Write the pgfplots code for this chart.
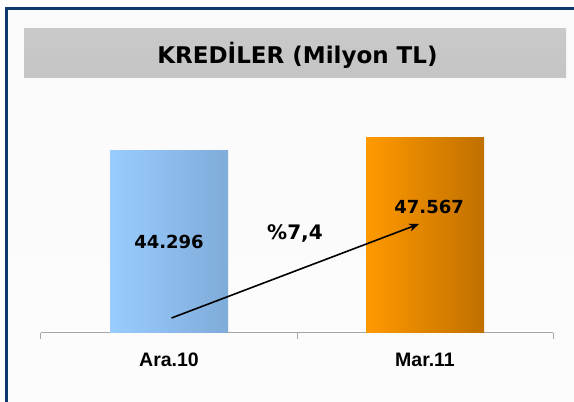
\documentclass[border=0pt]{standalone}
\usepackage{pgfplots}
\pgfplotsset{compat=1.18}
\usepackage{fontspec}
\setmainfont{DejaVu Sans}
\newfontfamily\arialfont{Liberation Sans}
\usetikzlibrary{arrows.meta}
\definecolor{frameblue}{HTML}{0B3A6B}
\definecolor{barAl}{HTML}{99CCFF}
\definecolor{barAr}{HTML}{7FACD9}
\definecolor{barBl}{HTML}{FF9900}
\definecolor{barBr}{HTML}{C07000}
\definecolor{axisgrey}{HTML}{A6A6A6}
\begin{document}
\begin{tikzpicture}[x=1pt,y=1pt]
\useasboundingbox (0,0) rectangle (574,402);
\clip (0,0) rectangle (574,402);
\fill[white] (0,0) rectangle (574,402);
\shade[top color=white!98!black, middle color=black!22, bottom color=white!99!black] (6.3,-10) rectangle (600,393.5);
\draw[frameblue, line width=2.8pt] (6.3,-10) rectangle (600,393.5);
\shade[top color=black!21, middle color=black!13, bottom color=black!23] (24,324) rectangle (566,373);
\node[anchor=base, inner sep=0pt, font=\bfseries\fontsize{23}{27}\selectfont] at (297.5,338.7) {KREDİLER (Milyon TL)};
\begin{axis}[
  at={(41pt,69pt)}, anchor=south west,
  scale only axis, width=512pt, height=238.6pt,
  xmin=0, xmax=2, ymin=0, ymax=58000,
  axis x line*=bottom, axis y line=none,
  x axis line style={axisgrey, line width=1pt, -},
  xtick={0,1,2}, xticklabels={},
  tick align=outside, major tick length=6pt,
  x tick style={axisgrey, line width=1pt},
  extra x ticks={0.5,1.5},
  extra x tick labels={Ara.10, Mar.11},
  extra x tick style={major tick length=0pt,
    tick label style={anchor=base, yshift=-39.3pt+6pt}},
  xticklabel style={font=\arialfont\bfseries\fontsize{19.5}{22}\selectfont, inner sep=0pt},
  clip=false,
]
\addplot[ybar, bar width=118pt, bar shift=0pt, draw=none, left color=barAl, right color=barAr] coordinates {(0.5,44296)};
\addplot[ybar, bar width=118pt, bar shift=0pt, draw=none, left color=barBl, right color=barBr] coordinates {(1.5,47567)};
\node[anchor=base, inner sep=0pt, font=\bfseries\fontsize{18}{20}\selectfont] at (axis cs:0.5,20540) {44.296};
\node[anchor=base, inner sep=0pt, font=\bfseries\fontsize{18}{20}\selectfont] at (axis cs:1.516,29050) {47.567};
\node[anchor=base, inner sep=0pt, font=\bfseries\fontsize{20}{22}\selectfont] at (axis cs:0.992,22608) {\%7,4};
\draw[black, line width=1.6pt, -{Stealth[length=10pt, width=8pt]}] (axis cs:0.5098,3647) -- (axis cs:1.4766,26498);
\end{axis}
\end{tikzpicture}
\end{document}
